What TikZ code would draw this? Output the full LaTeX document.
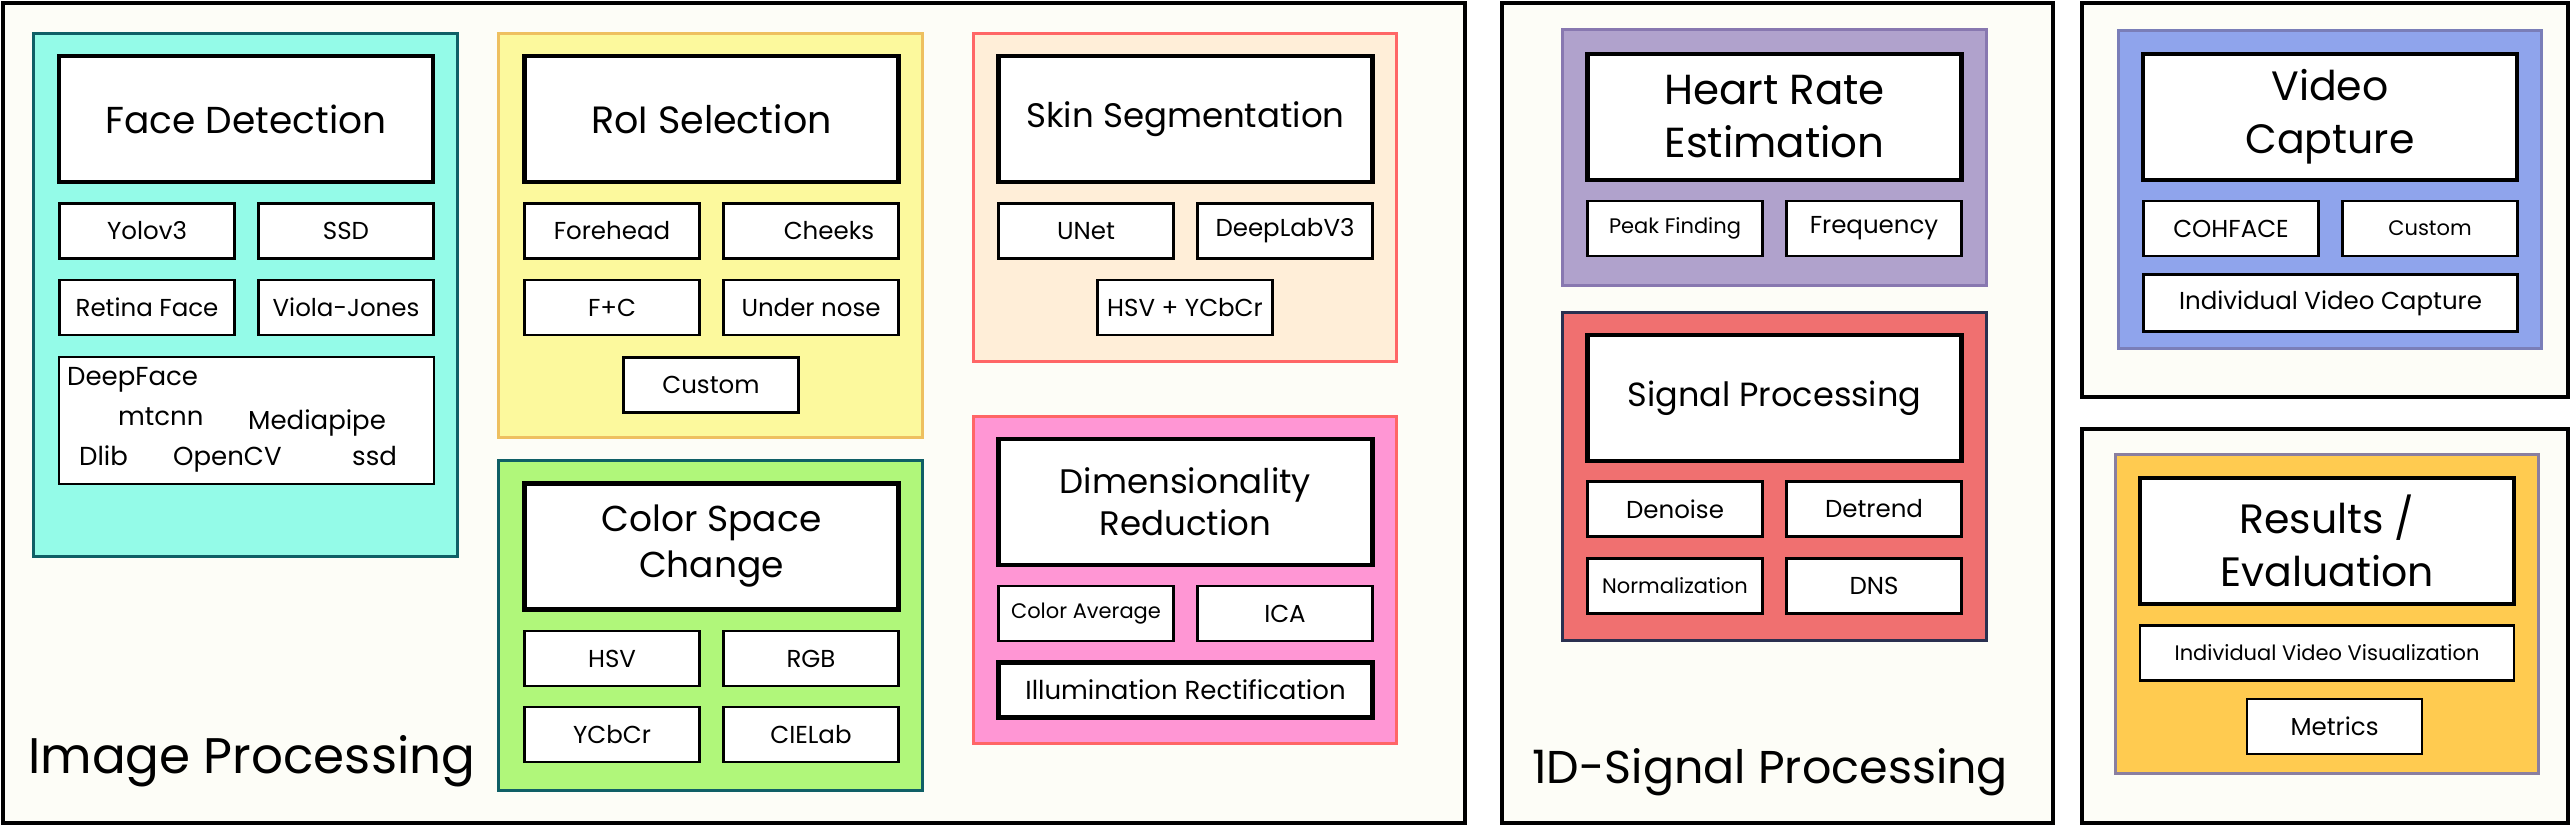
\documentclass[tikz,border=0pt]{standalone}
\usepackage[dvipsnames]{xcolor}
\usepackage{fontspec}
\setmainfont{Poppins}
\usepackage{tikz}

\definecolor{fondo}{HTML}{FDFDF7}
\definecolor{turquesa}{HTML}{94FBE8}
\definecolor{turqborde}{HTML}{0F5F66}
\definecolor{amarillo}{HTML}{FCF99D}
\definecolor{amaborde}{HTML}{EEC060}
\definecolor{durazno}{HTML}{FFEED8}
\definecolor{rojoborde}{HTML}{FF6666}
\definecolor{rosa}{HTML}{FF96D4}
\definecolor{verde}{HTML}{B0F77A}
\definecolor{lila}{HTML}{B0A2CC}
\definecolor{lilaborde}{HTML}{8878B0}
\definecolor{salmon}{HTML}{F07070}
\definecolor{salborde}{HTML}{2A3050}
\definecolor{azul}{HTML}{8FA4EC}
\definecolor{azulborde}{HTML}{7A7EB8}
\definecolor{naranja}{HTML}{FFCB50}
\definecolor{narborde}{HTML}{8A7FA0}

\begin{document}
\begin{tikzpicture}[x=1pt, y=-1pt,
        marco/.style={draw=black, line width=4pt, fill=fondo},
        panel/.style={line width=3pt},
        titulo/.style={draw, fill=white, line width=4.5pt, minimum width=374pt, minimum height=126pt,
            inner sep=0pt, align=center, font=\fontsize{38}{48}\selectfont},
        caja/.style={draw, fill=white, line width=2.5pt, minimum width=175pt, minimum height=55pt,
            inner sep=0pt, font=\fontsize{24.5}{30}\selectfont},
        chica/.style={font=\fontsize{21}{26}\selectfont},
        ancha/.style={minimum width=374pt},
        palabra/.style={anchor=base west, inner sep=0pt, font=\fontsize{26}{31}\selectfont},
        rotulo/.style={anchor=base west, inner sep=0pt, font=\fontsize{50}{58}\selectfont}]
    \useasboundingbox (0,0) rectangle (2574,826);

    % marcos exteriores
    \draw[marco] (3,3) rectangle (1465,823);
    \draw[marco] (1502,3) rectangle (2053,823);
    \draw[marco] (2082,3) rectangle (2568,397);
    \draw[marco] (2082,429) rectangle (2568,823);

    % paneles de color
    \draw[panel, draw=turqborde, fill=turquesa] (33,34) rectangle (457,556);
    \draw[panel, draw=amaborde, fill=amarillo] (498,34) rectangle (922,437);
    \draw[panel, draw=turqborde, fill=verde] (498,460) rectangle (922,790);
    \draw[panel, draw=rojoborde, fill=durazno] (973,34) rectangle (1396,361);
    \draw[panel, draw=rojoborde, fill=rosa] (973,416) rectangle (1396,743);
    \draw[panel, draw=lilaborde, fill=lila] (1562,30) rectangle (1986,285);
    \draw[panel, draw=salborde, fill=salmon] (1562,312) rectangle (1986,640);
    \draw[panel, draw=azulborde, fill=azul] (2118,31) rectangle (2541,348);
    \draw[panel, draw=narborde, fill=naranja] (2115,454) rectangle (2538,773);

    % Image Processing
    \node[titulo, font=\fontsize{37.5}{46}\selectfont] (face) at (246,119) {Face Detection};
    \foreach \n/\t/\x/\y in {yolo/Yolov3/147/231, ssd/SSD/346/231,
                             retina/Retina Face/147/307.5, viola/Viola-Jones/346/307.5}
        \node[caja] (\n) at (\x,\y) {\t};
    \node[caja, minimum width=375pt, minimum height=127pt] (libs) at (246.5,420.5) {};
    \node[palabra] (deepface) at (67,385) {DeepFace};
    \node[palabra] (mtcnn) at (118,425) {mtcnn};
    \node[palabra] (mediapipe) at (248,429) {Mediapipe};
    \node[palabra] (dlib) at (79,465) {Dlib};
    \node[palabra] (opencv) at (173,465) {OpenCV};
    \node[palabra] (ssdlib) at (352,465) {ssd};

    \node[titulo] (roi) at (711.5,119) {RoI Selection};
    \foreach \n/\t/\x/\y in {fore/Forehead/612/231, fc/F+C/612/307.5, nose/Under nose/811/307.5}
        \node[caja] (\n) at (\x,\y) {\t};
    \node[caja, text width=175pt, align=center] (cheeks) at (811,231) {\hspace*{36pt}Cheeks};
    \node[caja] (custom) at (711,385) {Custom};

    \node[titulo, font=\fontsize{36}{46}\selectfont] (color) at (711.5,546.5) {Color Space\\Change};
    \foreach \n/\t/\x/\y in {hsv/HSV/612/658.5, rgb/RGB/811/658.5,
                             ycbcr/YCbCr/612/734.5, lab/CIELab/811/734.5}
        \node[caja] (\n) at (\x,\y) {\t};

    \node[titulo, font=\fontsize{34}{42}\selectfont] (skin) at (1185.5,119) {Skin Segmentation};
    \foreach \n/\t/\x/\y in {unet/UNet/1086/231, deeplab/DeepLabV3/1285/231,
                             hsvy/HSV + YCbCr/1185/307.5}
        \node[caja] (\n) at (\x,\y) {\t};

    \node[titulo, font=\fontsize{34}{42}\selectfont] (dim) at (1185.5,502) {Dimensionality\\Reduction};
    \node[caja, chica] (avg) at (1086,613.5) {Color Average};
    \node[caja] (ica) at (1285,613.5) {ICA};
    \node[caja, ancha, line width=4.5pt, font=\fontsize{26}{30}\selectfont] (illum) at (1185.5,690) {Illumination Rectification};

    \node[rotulo] (imgproc) at (28,773) {Image Processing};

    % 1D-Signal Processing
    \node[titulo, font=\fontsize{42}{53}\selectfont] (hr) at (1774.5,117) {Heart Rate\\Estimation};
    \node[caja, chica] (peak) at (1675,228.5) {Peak Finding};
    \node[caja] (freq) at (1874,228.5) {Frequency};

    \node[titulo, font=\fontsize{33.5}{42}\selectfont] (sp) at (1774.5,398) {Signal Processing};
    \foreach \n/\t/\x/\y in {denoise/Denoise/1675/509, detrend/Detrend/1874/509, dns/DNS/1874/586}
        \node[caja] (\n) at (\x,\y) {\t};
    \node[caja, chica] (norm) at (1675,586) {Normalization};

    \node[rotulo, font=\fontsize{46}{54}\selectfont] (sigproc) at (1532,783) {1D-Signal Processing};

    % Video Capture
    \node[titulo, font=\fontsize{41}{53}\selectfont] (video) at (2330,117) {Video\\Capture};
    \node[caja] (cohface) at (2231,228.5) {COHFACE};
    \node[caja, chica] (customv) at (2430,228.5) {Custom};
    \node[caja, ancha, minimum height=57pt] (indcap) at (2330.5,303) {Individual Video Capture};

    % Results / Evaluation
    \node[titulo, font=\fontsize{41}{53}\selectfont] (res) at (2327,541) {Results /\\Evaluation};
    \node[caja, chica, ancha] (indvis) at (2327,653) {Individual Video Visualization};
    \node[caja] (metrics) at (2334.5,726.5) {Metrics};
\end{tikzpicture}
\end{document}
